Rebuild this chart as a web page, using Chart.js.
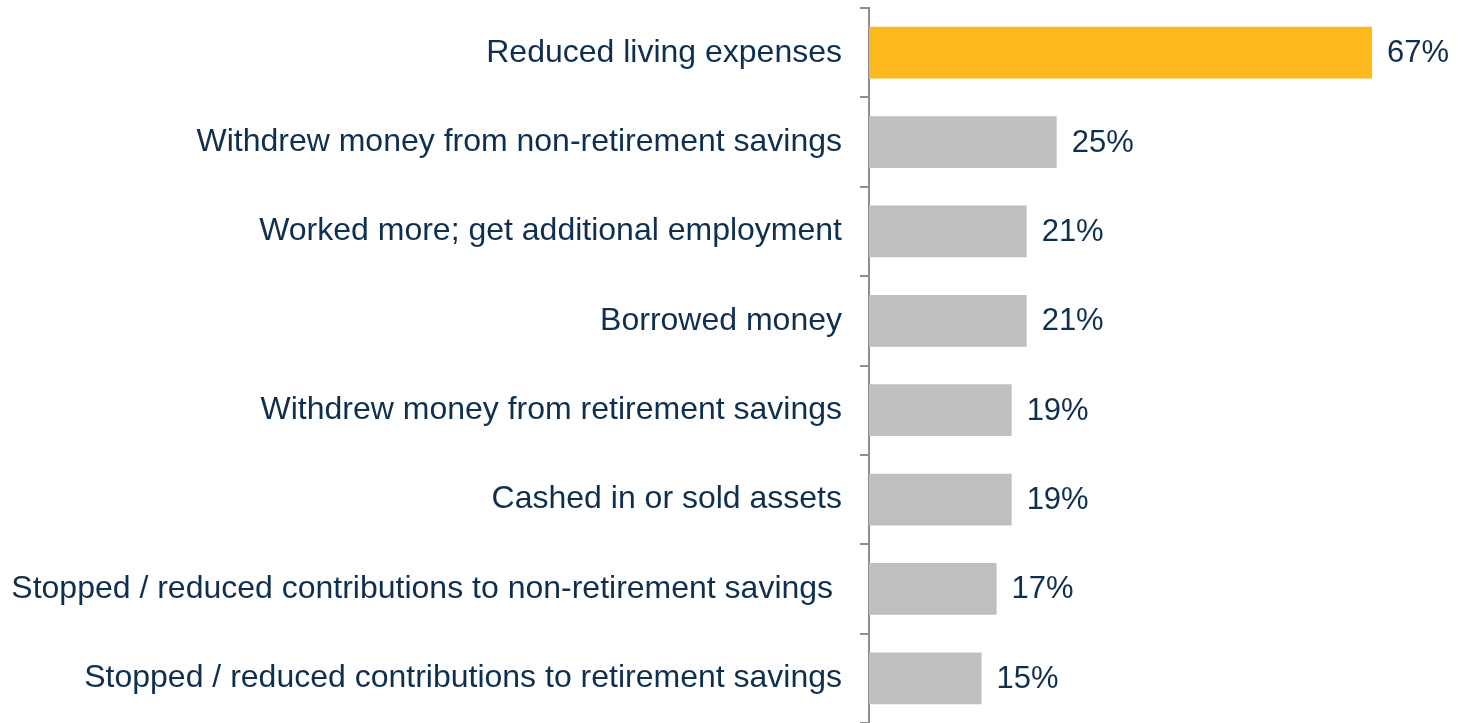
<!DOCTYPE html>
<html>
<head>
<meta charset="utf-8">
<script src="https://cdn.jsdelivr.net/npm/chart.js@4/dist/chart.umd.min.js"></script>
<style>
  html, body { margin: 0; padding: 0; background: #fff; }
  #wrap { width: 1458px; height: 723px; position: relative; }
</style>
</head>
<body>
<div id="wrap"><canvas id="chart"></canvas></div>
<script>
// data
const categories = [
  "Reduced living expenses",
  "Withdrew money from non-retirement savings",
  "Worked more; get additional employment",
  "Borrowed money",
  "Withdrew money from retirement savings",
  "Cashed in or sold assets",
  "Stopped / reduced contributions to non-retirement savings ",
  "Stopped / reduced contributions to retirement savings"
];
const percents = [67, 25, 21, 21, 19, 19, 17, 15];
const highlightIndex = 0;

const textColor = "#0f2f4f";
const fontFamily = "'Liberation Sans', Arial, sans-serif";

// value labels at the end of each bar
const valueLabels = {
  id: "valueLabels",
  afterDatasetsDraw(chart) {
    const ctx = chart.ctx;
    const meta = chart.getDatasetMeta(0);
    ctx.save();
    ctx.font = "31px " + fontFamily;
    ctx.fillStyle = textColor;
    ctx.textAlign = "left";
    ctx.textBaseline = "middle";
    meta.data.forEach((bar, i) => {
      ctx.fillText(percents[i] + "%", bar.x + 15, bar.y + 1);
    });
    ctx.restore();
  }
};

new Chart(document.getElementById("chart"), {
  type: "bar",
  data: {
    labels: categories,
    datasets: [{
      data: percents,
      backgroundColor: percents.map((v, i) => i === highlightIndex ? "#fdb81e" : "#bfbfbf"),
      borderWidth: 0,
      barPercentage: 0.58,
      categoryPercentage: 1
    }]
  },
  options: {
    indexAxis: "y",
    responsive: true,
    maintainAspectRatio: false,
    animation: false,
    layout: { padding: { top: 8, right: 26, bottom: 0, left: 0 } },
    plugins: {
      legend: { display: false },
      tooltip: { enabled: false }
    },
    scales: {
      x: {
        display: false,
        min: 0,
        max: 75
      },
      y: {
        afterFit(scale) {
          // fixed axis width so the axis line sits where the original has it
          scale.width = 869;
          scale.paddingTop = 0;
          scale.paddingBottom = 0;
        },
        grid: {
          offset: true,
          drawOnChartArea: false,
          drawTicks: true,
          tickLength: 9,
          color: "#8d8d94",
          lineWidth: 2
        },
        border: { display: true, color: "#8d8d94", width: 2 },
        ticks: {
          padding: 18,
          color: textColor,
          autoSkip: false,
          font: { family: fontFamily, size: 32 }
        }
      }
    }
  },
  plugins: [valueLabels]
});
</script>
</body>
</html>
